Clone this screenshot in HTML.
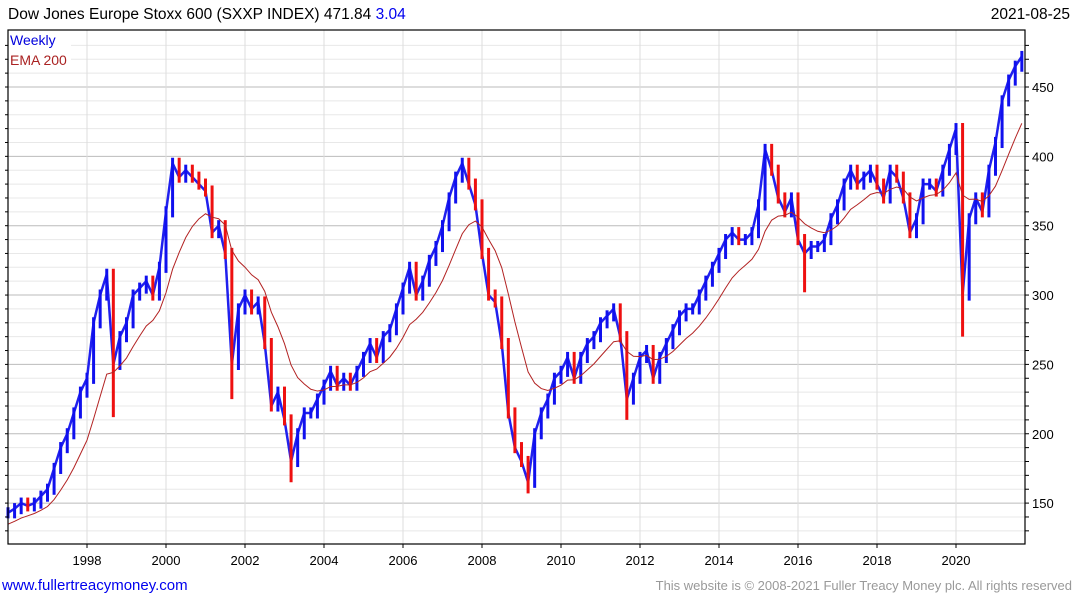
<!DOCTYPE html>
<html><head><meta charset="utf-8"><style>
body{margin:0;background:#fff;font-family:"Liberation Sans",sans-serif}
svg{display:block}
</style></head><body>
<svg id="chart" width="1075" height="600">
<text x="8" y="19" font-size="15.5" fill="#000">Dow Jones Europe Stoxx 600 (SXXP INDEX) 471.84 <tspan fill="#0000ee">3.04</tspan></text>
<text x="1070" y="19" font-size="15.5" text-anchor="end" fill="#000">2021-08-25</text>
<g id="grid"></g>
<g id="marks"></g>
<rect x="8" y="30" width="1017" height="514" fill="none" stroke="#000" stroke-width="1.2"/>
<rect x="9" y="32" width="62" height="38" fill="#fff"/>
<text x="10" y="45" font-size="14" fill="#0000dd">Weekly</text>
<text x="10" y="65" font-size="14" fill="#aa2222">EMA 200</text>
<g id="axes"></g>
<text x="2" y="590" font-size="15" fill="#0000ee">www.fullertreacymoney.com</text>
<text x="1072" y="590" font-size="13" text-anchor="end" fill="#999">This website is © 2008-2021 Fuller Treacy Money plc. All rights reserved</text>
</svg>
<script>
const startYear = 1996;
const pointsPerYear = 6;
const closes = [
143,146,150,148,150,155,
160,175,190,200,215,230,
240,280,300,315,250,270,
280,300,305,310,300,320,
360,395,385,390,385,380,
375,345,350,330,250,290,
300,290,295,265,220,230,
210,180,200,215,215,225,
235,245,235,240,235,245,
255,265,255,270,275,290,
305,320,300,310,325,335,
350,370,385,395,380,365,
330,300,295,265,215,190,
180,165,200,215,225,240,
245,255,240,255,265,270,
280,285,290,270,225,240,
255,260,240,255,265,275,
285,290,290,300,310,320,
330,340,345,340,340,345,
365,405,390,370,360,370,
340,330,335,335,340,355,
365,380,390,380,385,390,
380,370,390,385,370,345,
355,380,380,375,390,405,
420,300,355,370,360,390,
410,440,455,465,472
];
const spikeIdx = [16,34,43,79,94,121,145];
const spikeLow = [212,225,165,157,210,302,270];
const yTicks = [150,200,250,300,350,400,450];
const xTicks = [1998,2000,2002,2004,2006,2008,2010,2012,2014,2016,2018,2020];
const NS="http://www.w3.org/2000/svg";
const L=8,R=1025,T=30,B=544;
function xs(t){return 8+(t-1996)*39.5;}
function ys(v){return 87+(450-v)*1.387;}
function mk(tag,attrs,parent){const e=document.createElementNS(NS,tag);for(const k in attrs)e.setAttribute(k,attrs[k]);parent.appendChild(e);return e;}
const grid=document.getElementById('grid'),marks=document.getElementById('marks'),axes=document.getElementById('axes');
for(let v=130;v<=480;v+=10){const y=ys(v);if(y<T||y>B)continue;
 const l=mk('line',{x1:L,x2:R,y1:y,y2:y,stroke:v%50==0?'#bbb':'#e8e8e8','stroke-width':1},grid);
 
 
 mk('line',{x1:R,x2:R+4,y1:y,y2:y,stroke:'#000'},axes);
 mk('line',{x1:L-3,x2:L,y1:y,y2:y,stroke:'#000'},axes);}
yTicks.forEach(v=>{const t=mk('text',{x:1032,y:ys(v)+5,'font-size':13,fill:'#000'},axes);t.textContent=v;
 
 });
xTicks.forEach(yr=>{const x=xs(yr);
 mk('line',{x1:x,x2:x,y1:B,y2:B+4,stroke:'#000'},axes);
 const g=mk('line',{x1:x,x2:x,y1:T,y2:B,stroke:'#ddd'},grid);
 
 
 const t=mk('text',{x:x,y:565,'font-size':13,'text-anchor':'middle',fill:'#000'},axes);t.textContent=yr;
 
 });
// EMA
const alpha=2/(10+1);let e=closes[0]*0.93;let pts=[];
closes.forEach((c,i)=>{e=e+alpha*(c-e);pts.push(xs(startYear+i/pointsPerYear)+','+ys(e));});
// price line
const pl=mk('polyline',{points:closes.map((c,i)=>xs(startYear+i/pointsPerYear)+','+ys(c)).join(' '),fill:'none',stroke:'#2020ee','stroke-width':2.5,'stroke-linejoin':'round'},marks);


// price bars
closes.forEach((c,i)=>{const p=i?closes[i-1]:c;const x=xs(startYear+i/pointsPerYear);
 let lo=Math.min(p,c)-4,hi=Math.max(p,c)+4;
 const k=spikeIdx.indexOf(i);if(k>=0)lo=Math.min(lo,spikeLow[k]);
 const b=mk('line',{x1:x,x2:x,y1:ys(hi),y2:ys(lo),stroke:c>=p?'#1010ee':'#ee1010','stroke-width':3},marks);
 
 });
const ema=mk('polyline',{points:pts.join(' '),fill:'none',stroke:'#b22222','stroke-width':1},marks);


</script>
</body></html>
